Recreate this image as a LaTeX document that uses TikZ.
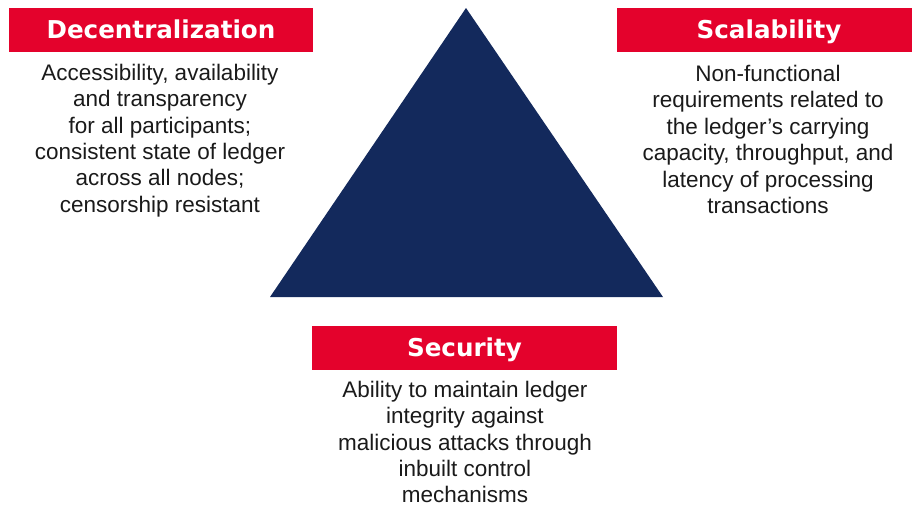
\documentclass[tikz,border=0pt]{standalone}
\usepackage{fontspec}
\setmainfont{Liberation Sans}
\newfontfamily\headfont{DejaVu Sans}
\usepackage{tikz}
\usetikzlibrary{positioning}
\definecolor{tRed}{HTML}{E4022C}
\definecolor{tNavy}{HTML}{13295C}
\definecolor{tText}{HTML}{1A1A1A}
\tikzset{hd/.style={fill=tRed, text=white, inner sep=0pt,
  minimum width=76mm, minimum height=11mm,
  text height=12.6pt, text depth=0pt,
  font=\headfont\fontsize{17.5}{20}\selectfont\bfseries}}
\tikzset{txt/.style={text=tText, align=center, inner sep=0pt,
  font=\fontsize{16}{18.8}\selectfont}}

\begin{document}
\begin{tikzpicture}[x=0.25mm,y=-0.25mm]
        \useasboundingbox (0,0) rectangle (912,506);
        %% triangle
        \fill[tNavy] (466,8) -- (663,297) -- (270,297) -- cycle;
        %% headers
        \node (dec) at (161,30) [hd] {Decentralization};
        \node (sca) at (769,30) [hd] {Scalability};
        \node (sec) at (464.5,348) [hd] {Security};
        %% descriptions
        \node (decT) at (160,140.5) [txt] {Accessibility, availability\\
            and transparency\\ for all participants;\\
            consistent state of ledger\\ across all nodes;\\
            censorship resistant};
        \node (scaT) at (768,139.5) [txt] {Non-functional\\
            requirements related to\\ the ledger’s carrying\\
            capacity, throughput, and\\ latency of processing\\
            transactions};
        \node (secT) at (465,442) [txt] {Ability to maintain ledger\\
            integrity against\\ malicious attacks through\\
            inbuilt control\\ mechanisms};
    \end{tikzpicture}
\end{document}
